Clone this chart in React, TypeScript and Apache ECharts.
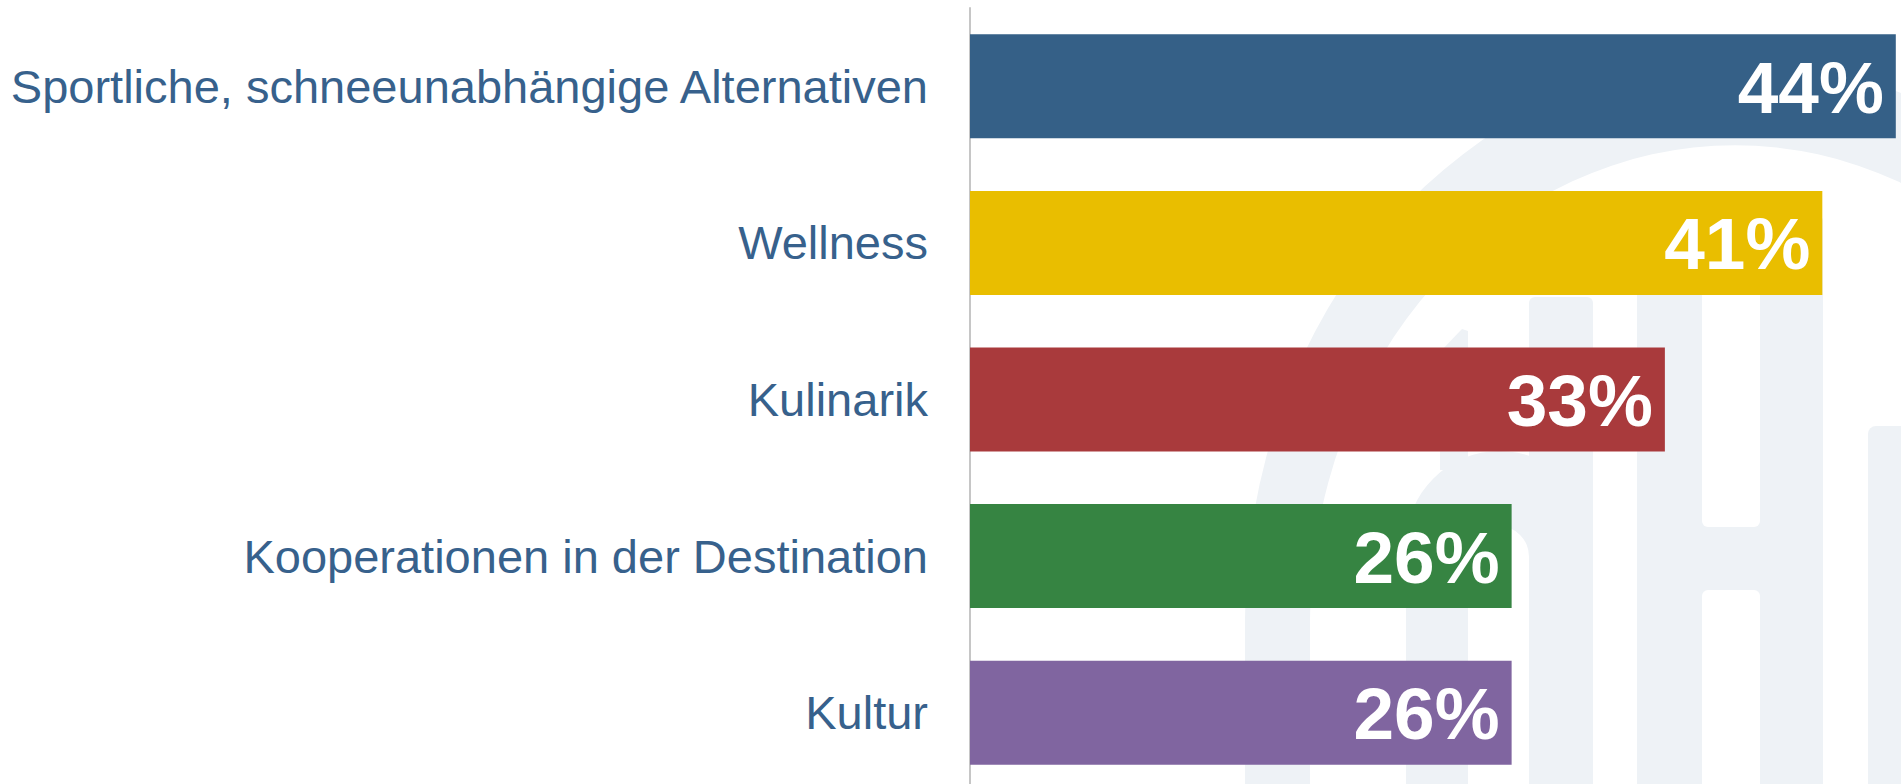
import React, { useEffect, useRef } from "react";
import * as echarts from "echarts";

const categories = [
  "Sportliche, schneeunabhängige Alternativen",
  "Wellness",
  "Kulinarik",
  "Kooperationen in der Destination",
  "Kultur",
];
const values = [44.1, 40.6, 33.1, 25.8, 25.8];
const barColors = ["#356087", "#E9BE00", "#A93A3C", "#368442", "#8065A0"];

const WM = "#eef2f6";

function archOuter(cx: number, rx: number, ry: number, top: number, bottom: number) {
  const cy = top + ry;
  return `M ${cx - rx} ${bottom} L ${cx - rx} ${cy} A ${rx} ${ry} 0 0 1 ${cx + rx} ${cy} L ${cx + rx} ${bottom} Z `;
}
function archInner(cx: number, rx: number, ry: number, top: number, bottom: number) {
  const cy = top + ry;
  return `M ${cx + rx} ${bottom} L ${cx + rx} ${cy} A ${rx} ${ry} 0 0 0 ${cx - rx} ${cy} L ${cx - rx} ${bottom} Z `;
}

let registered = false;
function registerShapes() {
  if (registered) return;
  registered = true;
  const ring = archOuter(1735, 490, 560, 60, 820) + archInner(1735, 425, 475, 145, 820);
  const bowl = archOuter(1499.5, 93.5, 93.5, 451, 820) + archInner(1498.5, 30.5, 30.5, 526, 820);
  echarts.graphic.registerShape("wmRing", echarts.graphic.extendPath(ring, {}));
  echarts.graphic.registerShape("wmBowl", echarts.graphic.extendPath(bowl, {}));
}

export default function App() {
  const ref = useRef<HTMLDivElement>(null);
  useEffect(() => {
    if (!ref.current) return;
    registerShapes();
    const chart = echarts.init(ref.current, null, { renderer: "svg" });
    const font = "'Liberation Sans', Arial, sans-serif";
    chart.setOption({
      animation: false,
      backgroundColor: "#ffffff",
      graphic: {
        elements: [
          { type: "wmRing", x: 0, y: 0, z: -10, silent: true, style: { fill: WM } },
          { type: "wmBowl", x: 0, y: 0, z: -10, silent: true, style: { fill: WM } },
          { type: "polygon", z: -10, silent: true, shape: { points: [[1440, 352], [1462, 329], [1468, 331], [1468, 470], [1440, 470]] }, style: { fill: WM } },
          { type: "rect", z: -10, silent: true, shape: { x: 1529, y: 297, width: 64, height: 520, r: [6, 6, 0, 0] }, style: { fill: WM } },
          { type: "rect", z: -10, silent: true, shape: { x: 1637, y: 215, width: 186, height: 600, r: [6, 6, 0, 0] }, style: { fill: WM } },
          { type: "rect", z: -9, silent: true, shape: { x: 1702, y: 260, width: 58, height: 267, r: 6 }, style: { fill: "#ffffff" } },
          { type: "rect", z: -9, silent: true, shape: { x: 1702, y: 590, width: 58, height: 230, r: 6 }, style: { fill: "#ffffff" } },
          { type: "rect", z: -10, silent: true, shape: { x: 1868, y: 426, width: 80, height: 400, r: 8 }, style: { fill: WM } },
        ],
      },
      grid: { left: 970, top: 8, width: 930, height: 783, containLabel: false },
      xAxis: {
        type: "value",
        min: 0,
        max: 44.3,
        show: false,
        splitLine: { show: false },
      },
      yAxis: {
        type: "category",
        inverse: true,
        data: categories,
        axisLine: { show: true, lineStyle: { color: "#c6c6c6", width: 2 } },
        axisTick: { show: false },
        axisLabel: {
          color: "#37618c",
          fontSize: 47,
          fontFamily: font,
          margin: 42,
        },
      },
      series: [
        {
          type: "bar",
          barWidth: 104,
          data: values.map((v, i) => ({ value: v, itemStyle: { color: barColors[i] } })),
          label: {
            show: true,
            position: "insideRight",
            distance: 12,
            offset: [0, 1],
            color: "#ffffff",
            fontSize: 73,
            fontWeight: "bold",
            fontFamily: font,
            formatter: (p: any) => `${Math.round(p.value)}%`,
          },
        },
      ],
    });
    return () => chart.dispose();
  }, []);
  return (
    <div style={{ position: "fixed", left: 0, top: 0, width: 1901, height: 784, overflow: "hidden", background: "#fff" }}>
      <div ref={ref} style={{ width: 1901, height: 800 }} />
    </div>
  );
}
